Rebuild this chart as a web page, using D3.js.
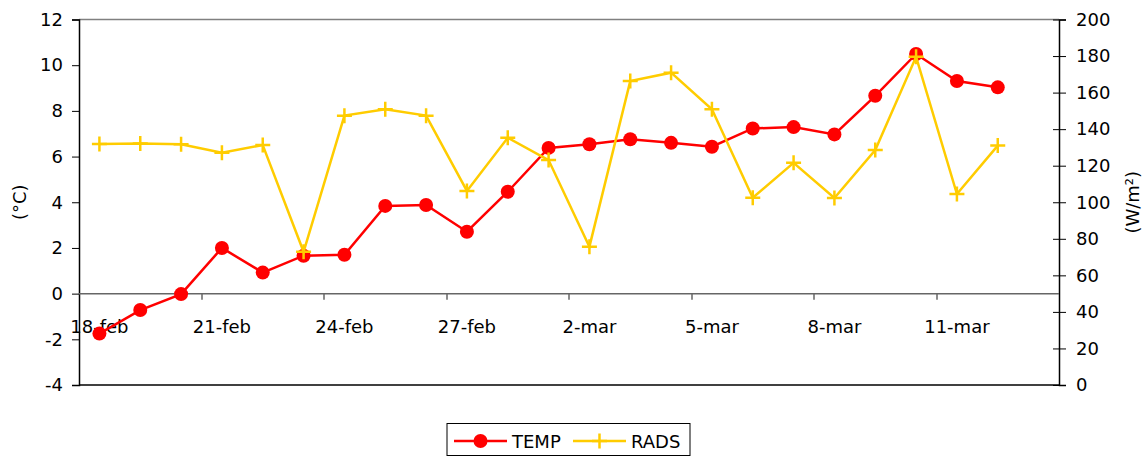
<!DOCTYPE html>
<html>
<head>
<meta charset="utf-8">
<script src="https://cdn.jsdelivr.net/npm/d3@7"></script>
<style>
  body { margin: 0; background: #fff; }
  svg text { font-family: "DejaVu Sans", sans-serif; font-size: 18px; fill: #000; }
</style>
</head>
<body>
<script>
// categories (one per day, last one has no data)
var days = ['18-feb','19-feb','20-feb','21-feb','22-feb','23-feb','24-feb','25-feb','26-feb','27-feb','28-feb',
            '1-mar','2-mar','3-mar','4-mar','5-mar','6-mar','7-mar','8-mar','9-mar','10-mar','11-mar','12-mar','13-mar'];

// temperature (°C), left axis
var temp = [-1.75, -0.72, -0.02, 2.0, 0.92, 1.66, 1.7, 3.84, 3.88, 2.71, 4.46,
            6.38, 6.54, 6.76, 6.6, 6.43, 7.23, 7.29, 6.97, 8.66, 10.49, 9.31, 9.03, null];

// radiation (W/m²), right axis
var rads = [131.9, 132.2, 131.7, 127.1, 131.3, 72.9, 147.4, 150.9, 147.4, 106.2, 135.3,
            123.1, 75.7, 166.3, 170.9, 150.9, 102.5, 121.6, 102.3, 128.6, 179.6, 104.5, 131.0, null];

// axis ticks
var tempTicks = [-4, -2, 0, 2, 4, 6, 8, 10, 12];
var radsTicks = [0, 20, 40, 60, 80, 100, 120, 140, 160, 180, 200];
var labelDays = ['18-feb','21-feb','24-feb','27-feb','2-mar','5-mar','8-mar','11-mar'];

var margin = { top: 19.5, right: 88, bottom: 72, left: 79 },
    width  = 1147 - margin.left - margin.right,
    height = 457 - margin.top - margin.bottom;

var svg = d3.select('body').append('svg')
    .attr('width', 1147)
    .attr('height', 457);

var g = svg.append('g')
    .attr('transform', 'translate(' + margin.left + ',' + margin.top + ')');

// scales
var x = d3.scaleBand().domain(days).range([0, width]);
var yL = d3.scaleLinear().domain([-4, 12]).range([height, 0]);
var yR = d3.scaleLinear().domain([0, 200]).range([height, 0]);

// plain hyphen for negatives, like the original
var fmt = function(d) { return String(d); };

// plot frame: top gray, bottom black
g.append('line').attr('x1', 0).attr('x2', width).attr('y1', 0).attr('y2', 0)
    .attr('stroke', '#808080').attr('stroke-width', 1.5);
g.append('line').attr('x1', 0).attr('x2', width).attr('y1', height).attr('y2', height)
    .attr('stroke', '#000').attr('stroke-width', 1.5);

// left axis
var axL = g.append('g').call(d3.axisLeft(yL).tickValues(tempTicks).tickFormat(fmt).tickSize(7).tickPadding(9));
axL.select('.domain').attr('stroke', '#000').attr('stroke-width', 1.5);
axL.selectAll('text').style('font-size', '18px').style('font-family', 'DejaVu Sans');

// right axis
var axR = g.append('g').attr('transform', 'translate(' + width + ',0)')
    .call(d3.axisRight(yR).tickValues(radsTicks).tickFormat(fmt).tickSize(7).tickPadding(10));
axR.select('.domain').attr('stroke', '#000').attr('stroke-width', 1.5);
axR.selectAll('.tick line').attr('x1', -6);
axR.selectAll('text').style('font-size', '18px').style('font-family', 'DejaVu Sans');

// category axis at 0 °C
var y0 = yL(0);
g.append('line').attr('x1', 0).attr('x2', width).attr('y1', y0).attr('y2', y0)
    .attr('stroke', '#666').attr('stroke-width', 1.5);
var cat = g.append('g');
cat.selectAll('line').data(labelDays.slice(1)).enter().append('line')
    .attr('x1', function(d) { return Math.round(x(d)); })
    .attr('x2', function(d) { return Math.round(x(d)); })
    .attr('y1', y0).attr('y2', y0 + 6)
    .attr('stroke', '#666').attr('stroke-width', 1.5);
cat.selectAll('text').data(labelDays).enter().append('text')
    .attr('x', function(d) { return x(d) + x.bandwidth() / 2; })
    .attr('y', y0 + 39)
    .attr('text-anchor', 'middle')
    .text(function(d) { return d; });

// axis titles
svg.append('text')
    .attr('transform', 'translate(26,' + (margin.top + height / 2) + ') rotate(-90)')
    .attr('text-anchor', 'middle')
    .text('(°C)');
svg.append('text')
    .attr('transform', 'translate(1139,' + (margin.top + height / 2) + ') rotate(-90)')
    .attr('text-anchor', 'middle')
    .text('(W/m²)');

var cx = function(d, i) { return x(days[i]) + x.bandwidth() / 2; };

// TEMP series
var tempLine = d3.line()
    .defined(function(d) { return d != null; })
    .x(cx)
    .y(function(d) { return yL(d); });
g.append('path').datum(temp)
    .attr('d', tempLine)
    .attr('fill', 'none').attr('stroke', '#ff0000').attr('stroke-width', 2.5);
temp.forEach(function(d, i) {
    if (d == null) return;
    g.append('circle')
        .attr('cx', cx(d, i))
        .attr('cy', yL(d))
        .attr('r', 7)
        .attr('fill', '#ff0000');
});

// RADS series
var radsLine = d3.line()
    .defined(function(d) { return d != null; })
    .x(cx)
    .y(function(d) { return yR(d); });
g.append('path').datum(rads)
    .attr('d', radsLine)
    .attr('fill', 'none').attr('stroke', '#ffcc00').attr('stroke-width', 2.5);
function plusPath(s) {
    return 'M' + (-s) + ',0H' + s + 'M0,' + (-s) + 'V' + s;
}
rads.forEach(function(d, i) {
    if (d == null) return;
    g.append('path')
        .attr('transform', 'translate(' + cx(d, i) + ',' + yR(d) + ')')
        .attr('d', plusPath(7.5))
        .attr('stroke', '#ffcc00').attr('stroke-width', 2.5).attr('fill', 'none');
});

// legend
var lg = svg.append('g').attr('transform', 'translate(447,423.5)');
lg.append('rect').attr('width', 243).attr('height', 32)
    .attr('fill', '#fff').attr('stroke', '#000').attr('stroke-width', 1);
lg.append('line').attr('x1', 7).attr('x2', 60).attr('y1', 17.5).attr('y2', 17.5)
    .attr('stroke', '#ff0000').attr('stroke-width', 2.5);
lg.append('circle').attr('cx', 33.5).attr('cy', 17.5).attr('r', 7).attr('fill', '#ff0000');
lg.append('text').attr('x', 65).attr('y', 24).text('TEMP');
lg.append('line').attr('x1', 126).attr('x2', 179).attr('y1', 17.5).attr('y2', 17.5)
    .attr('stroke', '#ffcc00').attr('stroke-width', 2.5);
lg.append('path').attr('transform', 'translate(152.5,17.5)').attr('d', plusPath(7.5))
    .attr('stroke', '#ffcc00').attr('stroke-width', 2.5);
lg.append('text').attr('x', 184).attr('y', 24).text('RADS');
</script>
</body>
</html>
